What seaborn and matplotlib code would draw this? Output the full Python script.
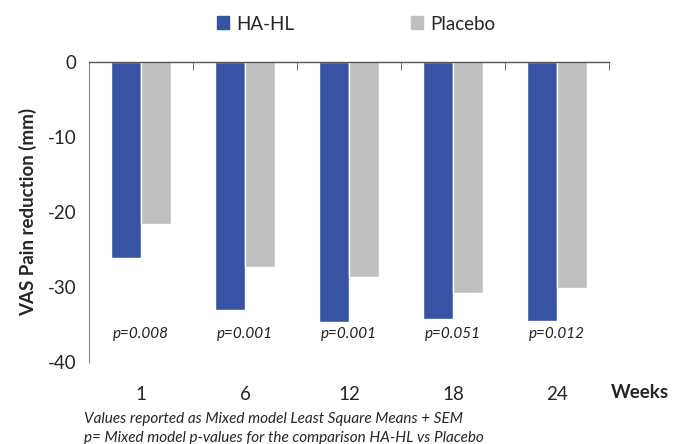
import matplotlib
matplotlib.use('Agg')
import matplotlib.pyplot as plt
import seaborn as sns
import pandas as pd
from matplotlib.ticker import FixedLocator

weeks = ['1', '6', '12', '18', '24']
ha_hl = [-26.1, -33.1, -34.7, -34.2, -34.5]
placebo = [-21.6, -27.3, -28.7, -30.8, -30.1]
p_values = ['p=0.008', 'p=0.001', 'p=0.001', 'p=0.051', 'p=0.012']
groups = ['HA-HL', 'Placebo']
colors = ['#3953A4', '#BFBFBF']

df = pd.DataFrame({
    'week': weeks * 2,
    'group': ['HA-HL'] * len(weeks) + ['Placebo'] * len(weeks),
    'value': ha_hl + placebo,
})

sns.set_style('white')
plt.rcParams['font.family'] = ['Lato', 'DejaVu Sans']

fig = plt.figure(figsize=(6.73, 4.44), dpi=100)
ax = fig.add_axes([89 / 673, 1 - 362 / 444, 520 / 673, 300 / 444])

sns.barplot(data=df, x='week', y='value', hue='group', order=weeks,
            hue_order=groups, palette=colors, width=0.57, gap=0,
            saturation=1, errorbar=None, ax=ax, legend=False)

ax.set_ylim(-40, 0)
ax.set_xlim(-0.5, len(weeks) - 0.5)
ax.set_yticks([0, -10, -20, -30, -40])
ax.set_yticklabels(['0', '-10', '-20', '-30', '-40'], fontsize=13.5)

for s in ['right', 'bottom']:
    ax.spines[s].set_visible(False)
ax.spines['left'].set_color('#888888')
ax.spines['top'].set_color('#555555')
ax.spines['top'].set_linewidth(1.0)
ax.tick_params(axis='y', direction='out', length=5, color='#888888', pad=4)

# category labels at the bottom, boundary ticks on the zero line
ax.tick_params(axis='x', which='major', bottom=False, top=False,
               labelbottom=True, labelsize=13.5, pad=14)
ax.xaxis.set_minor_locator(FixedLocator([i + 0.5 for i in range(len(weeks))]))
ax.tick_params(axis='x', which='minor', top=True, bottom=False,
               direction='in', length=6, color='#555555')
ax.set_xlabel('')
ax.set_ylabel('VAS Pain reduction (mm)', fontsize=13.5, fontweight='bold', labelpad=8)

for i, p in enumerate(p_values):
    ax.text(i, -36.2, p, ha='center', va='center', fontsize=11,
            style='italic', color='#222222', zorder=5)

# legend drawn above the axes
handles = [plt.Rectangle((0, 0), 1, 1, color=c) for c in colors]
fig.legend(handles, groups, loc='center', bbox_to_anchor=(356 / 673, 1 - 24 / 444),
           ncol=2, frameon=False, fontsize=13.5, handlelength=0.65, handleheight=0.7,
           columnspacing=6.2, handletextpad=0.4)

fig.text(640 / 673, 1 - 392 / 444, 'Weeks', ha='center', va='center',
         fontsize=13.5, fontweight='bold')
fig.text(84 / 673, 1 - 419 / 444,
         'Values reported as Mixed model Least Square Means + SEM',
         ha='left', va='center', fontsize=11, style='italic')
fig.text(84 / 673, 1 - 438 / 444,
         'p= Mixed model p-values for the comparison HA-HL vs Placebo',
         ha='left', va='center', fontsize=11, style='italic')

fig.savefig('out.png', dpi=100)
